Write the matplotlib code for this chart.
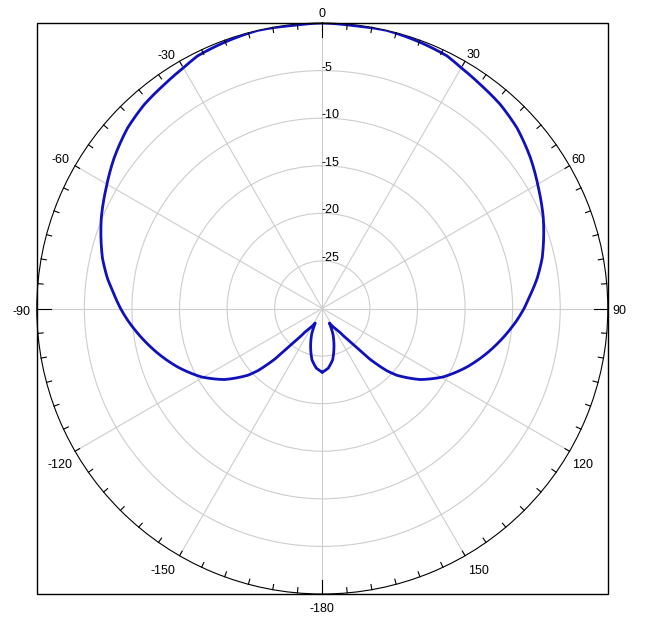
import numpy as np
import matplotlib
matplotlib.use("Agg")
import matplotlib.pyplot as plt
from matplotlib.patches import Rectangle

# Pattern data (degrees clockwise from top, gain in dB)
angles_right = [0, 6.3, 13.1, 20.2, 26.3, 30, 35.2, 41.1, 47.2, 54.1, 60.9, 67.7, 72.4, 77.1,
                82, 86.3, 90, 93.4, 98.9, 105.3, 112, 119.5, 126, 131.9, 134, 136.8, 138, 140,
                143.6, 147, 154, 157.4, 163, 168.6, 174.3, 180]
gain_right = [0.0, -0.1, 0.0, -0.2, -0.4, -0.8, -1.2, -1.55, -2.1, -3.0, -4.0, -4.9, -5.6, -6.3,
              -7.2, -8.1, -8.8, -9.5, -10.7, -12.1, -13.6, -15.4, -17.3, -19.5, -20.6, -22.7, -24.1, -25.5,
              -26.9, -27.5, -28.3, -27.1, -25.8, -24.5, -23.7, -23.3]
angles_left = [-180, -174.3, -168.6, -163, -157.4, -154, -147, -143.6, -140, -138, -136.8, -134,
               -131.9, -126, -119.5, -112, -105.3, -98.9, -93.4, -90, -86.3, -82, -77.1, -72.4,
               -67.7, -60.9, -54.1, -47.2, -41.1, -35.2, -30, -26.3, -20.2, -13.1, -6.3]
gain_left = [-23.3, -23.7, -24.5, -25.8, -27.1, -28.3, -27.5, -26.9, -25.5, -24.1, -22.7, -20.6,
             -19.5, -17.3, -15.4, -13.6, -12.1, -10.7, -9.5, -8.8, -8.1, -7.2, -6.3, -5.6,
             -4.9, -4.0, -3.0, -2.1, -1.55, -1.2, -0.8, -0.4, -0.2, 0.0, -0.1]

ring_values = [-25, -20, -15, -10, -5]
ring_labels = ["-25", "-20", "-15", "-10", "-5"]
angle_ticks = [0, 30, 60, 90, 120, 150, 180, 210, 240, 270, 300, 330]
angle_labels = ["0", "30", "60", "90", "120", "150", "-180", "-150", "-120", "-90", "-60", "-30"]
r_min, r_max = -30, 0

# label offsets (pixels, from the outer circle) -- styling only
label_offsets = [(0, 9), (8, 6.5), (9, 6), (11.5, -3), (13, -14), (13, -15.5), (0, -15.5),
                 (-17, -15.5), (-15, -14), (-15, -3), (-14.5, 5.6), (-13.5, 5.5)]

W, H = 645, 629
fig = plt.figure(figsize=(W / 100, H / 100), dpi=100)
cx, cy, R = 322.3, 308.5, 285.5
ax = fig.add_axes([(cx - R) / W, (H - cy - R) / H, 2 * R / W, 2 * R / H], projection="polar")
ax.set_theta_zero_location("N")
ax.set_theta_direction(-1)

angles_all = angles_left + angles_right
gain_all = gain_left + gain_right
line, = ax.plot(np.deg2rad(angles_all), gain_all, color="#1010bc", lw=2.0, zorder=4,
                solid_joinstyle="round", solid_capstyle="round")
# let the polar transform draw each segment along the polar grid (curved) rather than straight
try:
    line.get_path()._interpolation_steps = 16
except Exception:
    pass

# inward ticks on outer circle
for a in range(0, 360, 5):
    ln = 1.5 if a % 90 == 0 else 0.55
    ax.plot([np.deg2rad(a)] * 2, [r_max, r_max - ln], color="black", lw=0.8,
            clip_on=False, zorder=5)

ax.set_xlim(0, 2 * np.pi)
ax.set_ylim(r_min, r_max)
ax.set_xticks(np.deg2rad(angle_ticks))
ax.set_xticklabels([])
ax.tick_params(axis="x", length=0)
ax.set_yticks(ring_values)
ax.set_yticklabels([])
ax.grid(True, color="#cdcdcd", lw=0.8)
ax.spines["polar"].set_color("black")
ax.spines["polar"].set_linewidth(0.8)

for a, lab, (ox, oy) in zip(angle_ticks, angle_labels, label_offsets):
    ax.annotate(lab, xy=(np.deg2rad(a), r_max), xytext=(ox, oy), textcoords="offset pixels",
                ha="center", va="center", fontsize=9, family="Liberation Sans",
                color="black", annotation_clip=False)

for v, lab in zip(ring_values, ring_labels):
    ax.annotate(lab, xy=(0, v), xytext=(-1, 3), textcoords="offset pixels",
                ha="left", va="center", fontsize=9, family="Liberation Sans", color="black")

fig.add_artist(Rectangle(((cx - R) / W, (H - cy - R) / H), 2 * R / W, 2 * R / H,
                         transform=fig.transFigure, fill=False, ec="black", lw=1))

fig.savefig("out.png", dpi=100)
